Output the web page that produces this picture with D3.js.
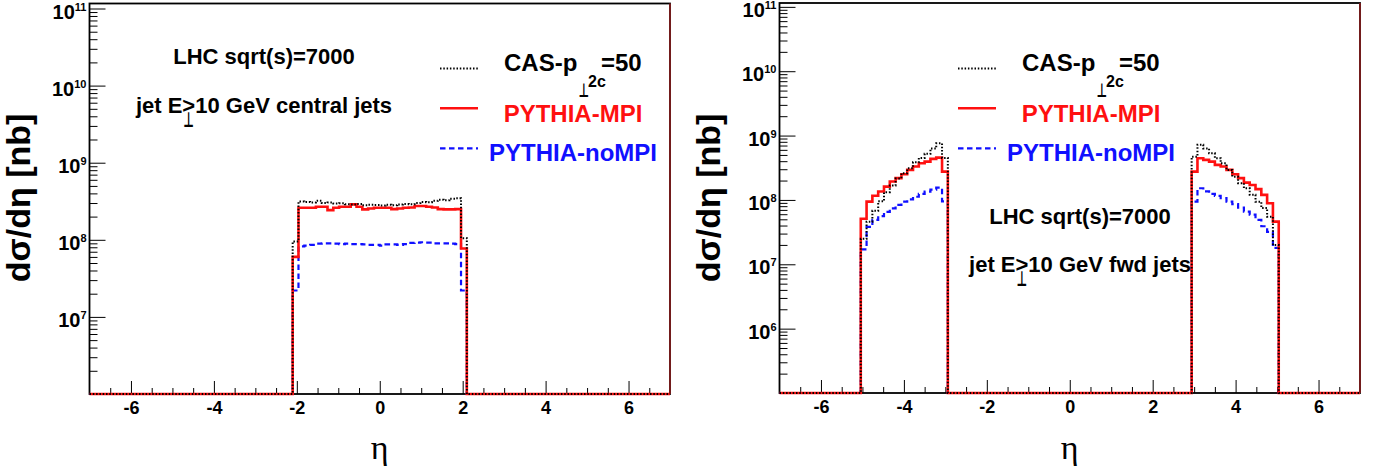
<!DOCTYPE html>
<html>
<head>
<meta charset="utf-8">
<script src="https://cdn.jsdelivr.net/npm/d3@7"></script>
<style>
body { margin: 0; background: #fff; }
text { font-family: "Liberation Sans", Arial, sans-serif; font-weight: bold; }
</style>
</head>
<body>
<div id="chart"></div>
<script>
// binning (100 bins from -7 to 7)
var etaMin = -7, etaMax = 7, nBins = 100;
var binW = (etaMax - etaMin) / nBins;

var seriesNames = ["CAS-p", "PYTHIA-MPI", "PYTHIA-noMPI"];

// central jets, filled bins start at eta = -2.1
var centralStart = -2.1;
var centralCAS = [0.95e8, 3.15e8, 3.10e8, 3.05e8, 3.20e8, 3.00e8, 3.05e8, 2.95e8, 2.97e8, 2.90e8,
                  2.88e8, 2.92e8, 2.80e8, 2.85e8, 2.82e8, 2.78e8, 2.85e8, 2.80e8, 2.88e8, 2.92e8,
                  2.90e8, 3.00e8, 3.10e8, 3.08e8, 3.20e8, 3.30e8, 3.25e8, 3.40e8, 3.45e8, 1.05e8];
var centralMPI = [0.60e8, 2.60e8, 2.60e8, 2.60e8, 2.68e8, 2.68e8, 2.43e8, 2.60e8, 2.68e8, 2.68e8,
                  2.88e8, 2.68e8, 2.48e8, 2.55e8, 2.60e8, 2.60e8, 2.60e8, 2.50e8, 2.55e8, 2.60e8,
                  2.62e8, 2.74e8, 2.74e8, 2.68e8, 2.62e8, 2.50e8, 2.48e8, 2.48e8, 2.50e8, 0.77e8];
var centralNoMPI = [0.22e8, 0.82e8, 0.84e8, 0.86e8, 0.89e8, 0.90e8, 0.90e8, 0.89e8, 0.88e8, 0.89e8,
                    0.88e8, 0.88e8, 0.87e8, 0.86e8, 0.86e8, 0.84e8, 0.87e8, 0.87e8, 0.86e8, 0.88e8,
                    0.91e8, 0.92e8, 0.93e8, 0.92e8, 0.90e8, 0.90e8, 0.90e8, 0.89e8, 0.88e8, 0.22e8];

// forward jets, backward block starts at eta = -5.04, forward block at 2.94
var fwdLowStart = -5.04, fwdHighStart = 2.94;
var fwdLowCAS = [0.25e8, 0.46e8, 0.68e8, 0.95e8, 1.32e8, 1.68e8, 2.15e8, 2.60e8, 3.10e8, 3.85e8,
                 4.5e8, 5.2e8, 6.3e8, 7.6e8, 4.5e8];
var fwdLowMPI = [0.51e8, 0.94e8, 1.16e8, 1.35e8, 1.61e8, 1.93e8, 2.18e8, 2.51e8, 2.93e8, 3.30e8,
                 3.72e8, 3.94e8, 4.34e8, 4.55e8, 2.75e8];
var fwdLowNoMPI = [0.17e8, 0.38e8, 0.49e8, 0.56e8, 0.65e8, 0.74e8, 0.84e8, 0.94e8, 1.02e8, 1.12e8,
                   1.24e8, 1.35e8, 1.45e8, 1.55e8, 0.95e8];
var fwdHighCAS = [4.7e8, 7.2e8, 6.3e8, 5.3e8, 4.45e8, 3.7e8, 2.93e8, 2.3e8, 1.82e8, 1.52e8,
                  1.20e8, 0.94e8, 0.75e8, 0.55e8, 0.20e8];
var fwdHighMPI = [2.75e8, 4.45e8, 4.19e8, 3.94e8, 3.50e8, 3.30e8, 2.93e8, 2.51e8, 2.18e8, 1.86e8,
                  1.71e8, 1.47e8, 1.20e8, 0.89e8, 0.46e8];
var fwdHighNoMPI = [0.94e8, 1.52e8, 1.36e8, 1.24e8, 1.16e8, 1.07e8, 0.94e8, 0.86e8, 0.76e8, 0.66e8,
                    0.59e8, 0.49e8, 0.39e8, 0.32e8, 0.18e8];

function fillBins(blocks) {
    var h = d3.range(nBins).map(function() { return 0; });
    blocks.forEach(function(b) {
        var i0 = Math.round((b[0] - etaMin) / binW);
        b[1].forEach(function(v, i) { h[i0 + i] += v; });
    });
    return h;
}

var W = 1380, H = 473;
var svg = d3.select("#chart").append("svg")
    .attr("width", W)
    .attr("height", H);

var styles = [
    { color: "#1010ff", width: 2.2, dash: "5.5,3.5" },  // noMPI
    { color: "#ff1010", width: 2.6, dash: null },       // MPI
    { color: "#000000", width: 2, dash: "1.5,1.8" }     // CAS
];

var panels = [
    { left: 89.5, right: 670, top: 3.5, bottom: 394, yMin: 1e6, yMax: Math.pow(10, 11.065),
      labelExp: [7, 8, 9, 10, 11], titleX: 30, legendCx: 573, textCx: 264, textY1: 64, textY2: 113,
      kind: "central",
      hists: [fillBins([[centralStart, centralNoMPI]]),
              fillBins([[centralStart, centralMPI]]),
              fillBins([[centralStart, centralCAS]])] },
    { left: 779.5, right: 1360, top: 3, bottom: 393, yMin: 1e5, yMax: Math.pow(10, 11.06),
      labelExp: [6, 7, 8, 9, 10, 11], titleX: 720, legendCx: 1091, textCx: 1080, textY1: 224, textY2: 272,
      kind: "fwd",
      hists: [fillBins([[fwdLowStart, fwdLowNoMPI], [fwdHighStart, fwdHighNoMPI]]),
              fillBins([[fwdLowStart, fwdLowMPI], [fwdHighStart, fwdHighMPI]]),
              fillBins([[fwdLowStart, fwdLowCAS], [fwdHighStart, fwdHighCAS]])] }
];

panels.forEach(drawPanel);

function perp(g, px, py, size, sxScale) {
    // the ROOT #perp subscript
    g.append("text")
        .attr("transform", "translate(" + px + "," + py + ") scale(" + sxScale + ",1)")
        .attr("fill", "#000")
        .style("font-family", "'DejaVu Sans'")
        .style("font-weight", "bold")
        .style("font-size", size + "px")
        .text("\u22a5");
}

function drawPanel(p) {
    var x = d3.scaleLinear().domain([etaMin, etaMax]).range([p.left, p.right]);
    var y = d3.scaleLog().domain([p.yMin, p.yMax]).range([p.bottom, p.top]);
    var g = svg.append("g");

    // x axis ticks
    var major = d3.range(-6, 7, 2);
    var minor = d3.range(-6.5, 7, 0.5).filter(function(d) { return major.indexOf(d) < 0; });
    var xa = g.append("g")
        .attr("transform", "translate(0," + p.bottom + ")")
        .call(d3.axisBottom(x).tickValues(major).tickSize(-13).tickPadding(7)
            .tickFormat(function(d) { return String(d); }));
    xa.selectAll("text")
        .style("font-family", "'Liberation Sans', Arial, sans-serif")
        .style("font-weight", "bold")
        .style("font-size", "18px");
    g.append("g")
        .attr("transform", "translate(0," + p.bottom + ")")
        .call(d3.axisBottom(x).tickValues(minor).tickSize(-6).tickFormat(""));

    // y axis ticks
    var lo = Math.round(Math.log10(p.yMin));
    var majorY = d3.range(lo, 12).map(function(e) { return Math.pow(10, e); });
    var minorY = [];
    d3.range(lo, 11).forEach(function(e) {
        d3.range(2, 10).forEach(function(m) { minorY.push(m * Math.pow(10, e)); });
    });
    g.append("g")
        .attr("transform", "translate(" + p.left + ",0)")
        .call(d3.axisLeft(y).tickValues(majorY).tickSize(-16).tickFormat(""));
    g.append("g")
        .attr("transform", "translate(" + p.left + ",0)")
        .call(d3.axisLeft(y).tickValues(minorY).tickSize(-8).tickFormat(""));
    g.selectAll(".domain").remove();

    // y labels 10^n
    var yl = g.selectAll(".ylab")
        .data(p.labelExp)
        .enter()
        .append("text")
            .attr("class", "ylab")
            .attr("text-anchor", "end")
            .attr("x", p.left - 3)
            .attr("y", function(d) { return y(Math.pow(10, d)) + 10; })
            .style("font-size", "20px");
    yl.append("tspan").text("10");
    yl.append("tspan")
        .attr("dy", -8)
        .style("font-size", "11px")
        .text(function(d) { return d; });

    // frame
    g.append("rect")
        .attr("x", p.left)
        .attr("y", p.top)
        .attr("width", p.right - p.left)
        .attr("height", p.bottom - p.top)
        .attr("fill", "none")
        .attr("stroke", "#000")
        .attr("stroke-width", 1.8);

    // histograms
    var line = d3.line()
        .x(function(d) { return x(d[0]); })
        .y(function(d) { return y(d[1] > 0 ? d[1] : p.yMin); })
        .curve(d3.curveStepAfter);
    p.hists.forEach(function(h, k) {
        var pts = h.map(function(v, i) { return [etaMin + i * binW, v]; });
        pts.push([etaMax, h[nBins - 1]]);
        g.append("path")
            .attr("d", line(pts))
            .attr("fill", "none")
            .attr("stroke", styles[k].color)
            .attr("stroke-width", styles[k].width)
            .attr("stroke-dasharray", styles[k].dash);
    });

    g.append("line")
        .attr("x1", p.right).attr("x2", p.right)
        .attr("y1", p.top).attr("y2", p.bottom)
        .attr("stroke", "#8a1c1c")
        .attr("stroke-width", 1.6);

    // legend
    var cx = p.legendCx;
    var rows = [
        { y: 68.5, ty: 71, st: styles[2] },
        { y: 108.3, ty: 121.7, st: styles[1] },
        { y: 148.3, ty: 160.7, st: styles[0] }
    ];
    rows.forEach(function(r) {
        g.append("line")
            .attr("x1", cx - 133).attr("x2", cx - 95)
            .attr("y1", r.y).attr("y2", r.y)
            .attr("stroke", r.st.color)
            .attr("stroke-width", r.st.width)
            .attr("stroke-dasharray", r.st.dash);
    });
    var sx = cx - 69;
    g.append("text").attr("x", sx).attr("y", rows[0].ty).style("font-size", "24px").text(seriesNames[0]);
    perp(g, sx + 74.5, rows[0].ty + 26, 19, 0.6);
    g.append("text").attr("x", sx + 84).attr("y", rows[0].ty + 16).style("font-size", "16px").text("2c");
    g.append("text").attr("x", sx + 97).attr("y", rows[0].ty).style("font-size", "24px").text("=50");
    g.append("text").attr("x", cx).attr("y", rows[1].ty).attr("text-anchor", "middle")
        .attr("fill", "#ff1010").style("font-size", "24px").text(seriesNames[1]);
    g.append("text").attr("x", cx).attr("y", rows[2].ty).attr("text-anchor", "middle")
        .attr("fill", "#1010ff").style("font-size", "24px").text(seriesNames[2]);

    // annotation
    g.append("text")
        .attr("x", p.textCx).attr("y", p.textY1)
        .attr("text-anchor", "middle")
        .style("font-size", "22px")
        .text("LHC sqrt(s)=7000");
    var t2 = g.append("text")
        .attr("x", p.textCx).attr("y", p.textY2)
        .attr("text-anchor", "middle")
        .style("font-size", "22px")
        .text("jet E>10 GeV " + p.kind + " jets");
    var px = t2.node().getStartPositionOfChar(5).x;
    perp(g, px + 1, p.textY2 + 14, 21, 0.55);

    // axis titles
    g.append("text")
        .attr("transform", "translate(" + p.titleX + ",198) rotate(-90)")
        .attr("text-anchor", "middle")
        .style("font-size", "34px")
        .text("d\u03c3/d\u03b7 [nb]");
    g.append("text")
        .attr("x", x(0)).attr("y", 459)
        .attr("text-anchor", "middle")
        .style("font-family", "'Liberation Serif', serif")
        .style("font-weight", "normal")
        .style("font-size", "34px")
        .text("\u03b7");
}
</script>
</body>
</html>
